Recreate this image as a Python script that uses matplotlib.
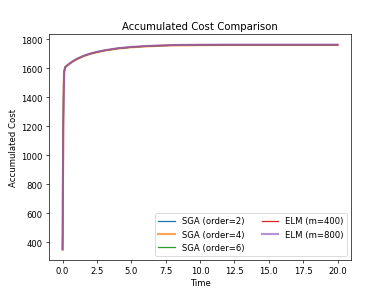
import numpy as np
import matplotlib
matplotlib.use('Agg')
import matplotlib.pyplot as plt

# time samples and accumulated cost
t = [0.0, 0.02, 0.05, 0.08, 0.12, 0.2, 0.4, 0.7, 1.0, 1.5, 2.0, 2.5, 3.0, 4.0,
     5.0, 6.0, 7.0, 8.0, 9.0, 10.0, 12.0, 14.0, 16.0, 18.0, 20.0]

sga2 = [350, 700, 1150, 1450, 1580, 1610, 1625, 1645, 1662, 1684, 1700, 1712,
        1722, 1737, 1746, 1752, 1756, 1759, 1760, 1761, 1762, 1762, 1762, 1762, 1762]
sga4 = [350, 720, 1180, 1470, 1585, 1610, 1624, 1644, 1661, 1683, 1699, 1711,
        1721, 1736, 1745, 1751, 1755, 1758, 1759, 1760, 1761, 1761, 1761, 1761, 1761]
sga6 = [350, 700, 1150, 1450, 1580, 1610, 1625, 1645, 1662, 1684, 1700, 1712,
        1722, 1737, 1746, 1752, 1756, 1759, 1760, 1761, 1762, 1762, 1762, 1762, 1762]
elm400 = [352, 690, 1140, 1440, 1575, 1608, 1625, 1646, 1663, 1685, 1701, 1713,
          1723, 1738, 1747, 1753, 1757, 1760, 1761, 1762, 1763, 1763, 1763, 1763, 1763]
elm800 = [352, 690, 1140, 1440, 1575, 1609, 1626, 1646, 1664, 1686, 1702, 1714,
          1724, 1739, 1748, 1754, 1758, 1761, 1762, 1763, 1764, 1764, 1764, 1764, 1764]

labels = ['SGA (order=2)', 'SGA (order=4)', 'SGA (order=6)', 'ELM (m=400)', 'ELM (m=800)']

fig = plt.figure(figsize=(6.4, 4.8), dpi=61)
plt.plot(t, sga2, color='C0', label=labels[0])
plt.plot(t, sga4, color='C1', lw=2.5, alpha=0.7, label=labels[1])
plt.plot(t, sga6, color='C2', label=labels[2])
plt.plot(t, elm400, color='C3', label=labels[3])
plt.plot(t, elm800, color='C4', lw=2.5, alpha=0.7, label=labels[4])
plt.title('Accumulated Cost Comparison')
plt.xlabel('Time')
plt.ylabel('Accumulated Cost')
plt.legend(loc='lower right', ncol=2)
plt.savefig('out.png', dpi=61)
